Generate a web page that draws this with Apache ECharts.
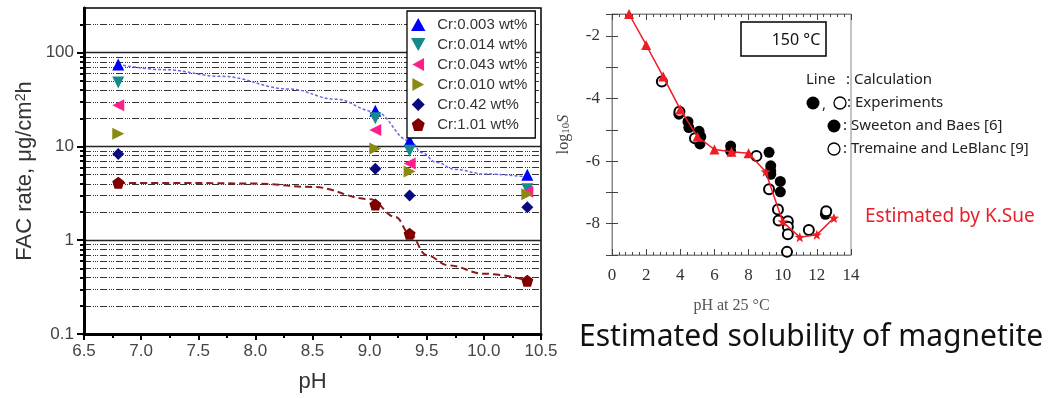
<!DOCTYPE html>
<html>
<head>
<meta charset="utf-8">
<script src="https://cdn.jsdelivr.net/npm/echarts@6/dist/echarts.min.js"></script>
<style>
html, body { margin: 0; padding: 0; background: #fff; }
#chart { width: 1057px; height: 398px; }
</style>
</head>
<body>
<div id="chart"></div>
<script>
// ---- left chart: FAC rate vs pH ----
const phMeasured = [6.8, 9.05, 9.35, 10.38];
const cr0003 = [75, 24, 11.5, 5.0];
const cr0014 = [48, 20, 9.0, 3.5];
const cr0043 = [27.5, 15, 6.6, 3.3];
const cr0010 = [13.7, 9.5, 5.4, 3.1];
const cr042 = [8.3, 5.8, 3.0, 2.25];
const cr101 = [4.1, 2.4, 1.17, 0.37];

// fitted curves
const fitBluePh = [6.8, 7.2, 7.7, 8.3, 8.7, 9.05, 9.35, 9.46, 9.58, 9.75, 10.0, 10.4];
const fitBlueRate = [75, 66, 56, 41, 32, 23.5, 11.5, 8.6, 6.8, 5.7, 5.1, 4.7];
const fitRedPh = [6.8, 7.5, 8.0, 8.5, 9.0, 9.23, 9.35, 9.5, 9.69, 10.0, 10.4];
const fitRedRate = [4.07, 4.07, 4.02, 3.7, 2.75, 1.76, 1.17, 0.69, 0.54, 0.44, 0.37];

const majorTicks = [0.1, 1, 10, 100];
const minorTicks = [0.2, 0.3, 0.4, 0.5, 0.6, 0.7, 0.8, 0.9,
  2, 3, 4, 5, 6, 7, 8, 9, 20, 30, 40, 50, 60, 70, 80, 90, 200];

// ---- right chart: solubility of magnetite ----
const calcPh = [1, 2, 3, 4, 5, 6, 7, 8, 9, 10, 11, 12, 13];
const calcLogS = [-1.3, -2.29, -3.3, -4.35, -5.22, -5.63, -5.7, -5.75, -6.34, -7.94, -8.43, -8.35, -7.82];
const sweetonPh = [3.92, 4.45, 4.5, 5.1, 5.2, 5.15, 6.95, 6.95, 9.2, 9.3, 9.3, 9.3, 9.86, 9.86, 12.5];
const sweetonLogS = [-4.5, -4.74, -4.93, -5.05, -5.22, -5.45, -5.52, -5.68, -5.72, -6.15, -6.32, -6.42, -6.65, -6.98, -7.7];
const tremainePh = [2.92, 3.95, 4.86, 8.46, 9.2, 9.72, 9.76, 10.3, 10.3, 10.3, 10.25, 11.53, 12.55];
const tremaineLogS = [-3.46, -4.42, -5.27, -5.84, -6.9, -7.55, -7.9, -7.92, -8.1, -8.34, -8.9, -8.2, -7.6];

const pairs = (xs, ys) => xs.map((x, i) => [x, ys[i]]);

const sym = {
  up: 'path://M5,0 L10,9 L0,9 Z',
  down: 'path://M0,0 L10,0 L5,9 Z',
  left: 'path://M9,0 L9,10 L0,5 Z',
  right: 'path://M0,0 L0,10 L9,5 Z',
  diamond: 'path://M5,0 L10,5 L5,10 L0,5 Z',
  pent: 'path://M5,0 L10,3.8 L8.1,10 L1.9,10 L0,3.8 Z',
  star: 'path://M5,0 L6.3,3.4 L10,3.6 L7.1,5.9 L8.1,9.6 L5,7.5 L1.9,9.6 L2.9,5.9 L0,3.6 L3.7,3.4 Z'
};

const sans = 'Liberation Sans, Arial, sans-serif';
const serif = 'Liberation Serif, Times New Roman, serif';
const noto = 'Noto Sans, sans-serif';

const measured = [
  { name: 'Cr:0.003 wt%', data: cr0003, color: '#0000ff', symbol: sym.up },
  { name: 'Cr:0.014 wt%', data: cr0014, color: '#158a8a', symbol: sym.down },
  { name: 'Cr:0.043 wt%', data: cr0043, color: '#ff1f8a', symbol: sym.left },
  { name: 'Cr:0.010 wt%', data: cr0010, color: '#8a8a10', symbol: sym.right },
  { name: 'Cr:0.42 wt%', data: cr042, color: '#0a0a80', symbol: sym.diamond },
  { name: 'Cr:1.01 wt%', data: cr101, color: '#800000', symbol: sym.pent }
];

const chart = echarts.init(document.getElementById('chart'));

const option = {
  animation: false,
  backgroundColor: '#fff',
  grid: [
    { left: 84, top: 8, width: 457, height: 327, show: true, borderColor: '#000', borderWidth: 1.5, backgroundColor: 'transparent' },
    { left: 612, top: 14, width: 239, height: 241, show: true, borderColor: '#888', borderWidth: 1, backgroundColor: 'transparent' }
  ],
  legend: {
    data: measured.map(m => m.name),
    orient: 'vertical',
    left: 407, top: 11,
    itemWidth: 28, itemHeight: 13, itemGap: 5,
    padding: [6, 8, 6, 4],
    borderColor: '#000', borderWidth: 1.3,
    backgroundColor: '#fff',
    textStyle: { fontFamily: sans, fontSize: 15, color: '#333' }
  },
  xAxis: [
    {
      gridIndex: 0, type: 'value', min: 6.5, max: 10.5, interval: 0.5,
      name: 'pH', nameLocation: 'middle', nameGap: 37,
      nameTextStyle: { fontFamily: sans, fontSize: 22, color: '#333' },
      axisLine: { lineStyle: { color: '#000', width: 3 } },
      axisTick: { length: 6, lineStyle: { color: '#000', width: 2 } },
      minorTick: { show: true, splitNumber: 2, length: 4, lineStyle: { color: '#000', width: 2 } },
      axisLabel: { fontFamily: sans, fontSize: 17, color: '#444', margin: 9, formatter: v => v.toFixed(1) },
      splitLine: { show: false }
    },
    {
      gridIndex: 1, type: 'value', min: 0, max: 14, interval: 2,
      name: 'pH at 25 °C', nameLocation: 'middle', nameGap: 43,
      nameTextStyle: { fontFamily: serif, fontSize: 16, color: '#555' },
      axisLine: { lineStyle: { color: '#888', width: 1 } },
      axisTick: { inside: true, length: 6, lineStyle: { color: '#444' } },
      minorTick: { show: true, splitNumber: 5, length: 3, lineStyle: { color: '#444' } },
      axisLabel: { fontFamily: serif, fontSize: 17, color: '#333', margin: 12 },
      splitLine: { show: false }
    },
    {
      gridIndex: 1, type: 'value', position: 'top', min: 0, max: 14, interval: 2,
      axisLine: { lineStyle: { color: '#888', width: 1 } },
      axisTick: { inside: true, length: 6, lineStyle: { color: '#444' } },
      minorTick: { show: true, splitNumber: 5, length: 3, lineStyle: { color: '#444' } },
      axisLabel: { show: false },
      splitLine: { show: false }
    }
  ],
  yAxis: [
    {
      gridIndex: 0, type: 'log', logBase: 10, min: 0.1, max: 300, position: 'left',
      name: 'FAC rate, μg/cm{sup|2}h', nameLocation: 'middle', nameGap: 48,
      nameTextStyle: {
        fontFamily: sans, fontSize: 22, color: '#333',
        rich: { sup: { fontFamily: sans, fontSize: 14, color: '#333', verticalAlign: 'top', lineHeight: 22 } }
      },
      axisLine: { lineStyle: { color: '#000', width: 3 } },
      axisTick: { customValues: majorTicks, length: 7, lineStyle: { color: '#000', width: 2 } },
      axisLabel: { customValues: majorTicks, fontFamily: sans, fontSize: 17, color: '#444', margin: 10, formatter: v => String(v) },
      splitLine: { show: true, lineStyle: { color: '#222', width: 1.3 } }
    },
    {
      gridIndex: 0, type: 'log', logBase: 10, min: 0.1, max: 300, position: 'left',
      axisLine: { show: false },
      axisTick: { customValues: minorTicks, length: 4, lineStyle: { color: '#000', width: 2 } },
      axisLabel: { show: false },
      splitLine: { show: true, lineStyle: { color: '#333', width: 1, type: [7, 2, 1, 1, 1, 1, 1, 2] } }
    },
    {
      gridIndex: 1, type: 'value', min: -9, max: -1.3, interval: 1, position: 'left',
      name: 'log{sub|10}{it|S}', nameLocation: 'middle', nameGap: 40,
      nameTextStyle: {
        fontFamily: serif, fontSize: 16, color: '#444',
        rich: {
          sub: { fontFamily: serif, fontSize: 11, color: '#444', verticalAlign: 'bottom', padding: [6, 0, 0, 0] },
          it: { fontFamily: serif, fontSize: 16, fontStyle: 'italic', color: '#444' }
        }
      },
      axisLine: { lineStyle: { color: '#888', width: 1 } },
      axisTick: { inside: true, length: 6, lineStyle: { color: '#444' } },
      axisLabel: {
        fontFamily: serif, fontSize: 17, color: '#333', margin: 12,
        formatter: v => (Number.isInteger(v) && v % 2 === 0) ? String(v) : ''
      },
      splitLine: { show: false }
    },
    {
      gridIndex: 1, type: 'value', position: 'right', min: -9, max: -1.3, interval: 1,
      axisLine: { lineStyle: { color: '#888', width: 1 } },
      axisTick: { inside: true, length: 6, lineStyle: { color: '#444' } },
      axisLabel: { show: false },
      splitLine: { show: false }
    }
  ],
  series: [
    {
      type: 'line', xAxisIndex: 0, yAxisIndex: 0, smooth: 0.4, smoothMonotone: 'x',
      symbol: 'none', silent: true,
      lineStyle: { color: '#6a6ae6', width: 1.5, type: [3, 2] },
      data: pairs(fitBluePh, fitBlueRate), z: 2
    },
    {
      type: 'line', xAxisIndex: 0, yAxisIndex: 0, smooth: 0.4, smoothMonotone: 'x',
      symbol: 'none', silent: true,
      lineStyle: { color: '#8b1a1a', width: 2, type: [7, 4] },
      data: pairs(fitRedPh, fitRedRate), z: 2
    },
    ...measured.map(m => ({
      name: m.name, type: 'scatter', xAxisIndex: 0, yAxisIndex: 0,
      symbol: m.symbol, symbolSize: 12,
      itemStyle: { color: m.color, opacity: 1 },
      data: pairs(phMeasured, m.data), z: 3
    })),
    {
      name: 'Sweeton and Baes', type: 'scatter', xAxisIndex: 1, yAxisIndex: 2,
      symbol: 'circle', symbolSize: 11,
      itemStyle: { color: '#000', opacity: 1 },
      data: pairs(sweetonPh, sweetonLogS), z: 3
    },
    {
      name: 'Tremaine and LeBlanc', type: 'scatter', xAxisIndex: 1, yAxisIndex: 2,
      symbol: 'circle', symbolSize: 10,
      itemStyle: { color: '#fff', borderColor: '#000', borderWidth: 2, opacity: 1 },
      data: pairs(tremainePh, tremaineLogS), z: 3
    },
    {
      name: 'Calculation', type: 'line', xAxisIndex: 1, yAxisIndex: 2, clip: false,
      symbol: (v, p) => p.dataIndex >= 8 ? sym.star : 'triangle',
      symbolSize: 10,
      lineStyle: { color: '#ee1c24', width: 1.5 },
      itemStyle: { color: '#ee1c24' },
      data: pairs(calcPh, calcLogS), z: 4
    }
  ],
  graphic: [
    { type: 'rect', shape: { x: 741, y: 22, width: 85, height: 34 }, style: { fill: '#fff', stroke: '#000', lineWidth: 1.5 }, z: 10 },
    { type: 'text', x: 796, y: 40, style: { text: '150 °C', font: '16px ' + noto, fill: '#111', align: 'center', verticalAlign: 'middle' }, z: 11 },

    { type: 'text', x: 806, y: 80, style: { text: 'Line', font: '15px ' + noto, fill: '#222', verticalAlign: 'middle' }, z: 11 },
    { type: 'text', x: 846, y: 80, style: { text: ': Calculation', font: '15px ' + noto, fill: '#222', verticalAlign: 'middle' }, z: 11 },

    { type: 'circle', shape: { cx: 813, cy: 103, r: 6.5 }, style: { fill: '#000' }, z: 11 },
    { type: 'text', x: 822, y: 105, style: { text: ',', font: '15px ' + noto, fill: '#222', verticalAlign: 'middle' }, z: 11 },
    { type: 'circle', shape: { cx: 840, cy: 103, r: 6 }, style: { fill: '#fff', stroke: '#000', lineWidth: 1.3 }, z: 11 },
    { type: 'text', x: 847, y: 103, style: { text: ': Experiments', font: '15px ' + noto, fill: '#222', verticalAlign: 'middle' }, z: 11 },

    { type: 'circle', shape: { cx: 834, cy: 126, r: 6.5 }, style: { fill: '#000' }, z: 11 },
    { type: 'text', x: 843, y: 126, style: { text: ': Sweeton and Baes [6]', font: '15px ' + noto, fill: '#222', verticalAlign: 'middle' }, z: 11 },

    { type: 'circle', shape: { cx: 834, cy: 149, r: 6 }, style: { fill: '#fff', stroke: '#000', lineWidth: 1.3 }, z: 11 },
    { type: 'text', x: 843, y: 149, style: { text: ': Tremaine and LeBlanc [9]', font: '15px ' + noto, fill: '#222', verticalAlign: 'middle' }, z: 11 },

    { type: 'text', x: 865, y: 217, style: { text: 'Estimated by K.Sue', font: '19px ' + noto, fill: '#e8202a', verticalAlign: 'middle' }, z: 11 },
    { type: 'text', x: 579, y: 337, style: { text: 'Estimated solubility of magnetite', font: '30px ' + noto, fill: '#111', verticalAlign: 'middle' }, z: 11 }
  ]
};

chart.setOption(option);
</script>
</body>
</html>
